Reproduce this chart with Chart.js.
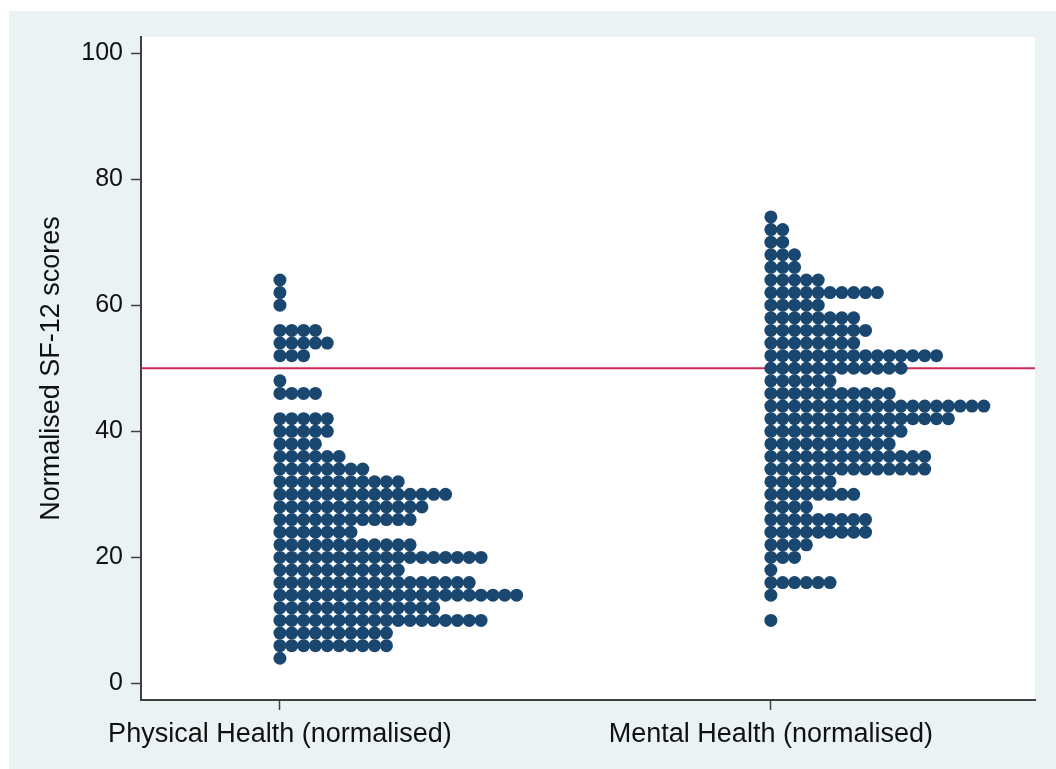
<!DOCTYPE html>
<html>
<head>
<meta charset="utf-8">
<title>SF-12 scores dot plot</title>
<script src="https://cdn.jsdelivr.net/npm/chart.js@4/dist/chart.umd.min.js"></script>
<style>
  html, body { margin: 0; padding: 0; background: #ffffff; }
  canvas { display: block; }
</style>
</head>
<body>
<canvas id="chart" width="1056" height="769"></canvas>
<script>
// Score bins (normalised SF-12, width 2)
const scoreLevels = [4, 6, 8, 10, 12, 14, 16, 18, 20, 22, 24, 26, 28, 30, 32, 34, 36, 38,
                     40, 42, 44, 46, 48, 50, 52, 54, 56, 58, 60, 62, 64, 66, 68, 70, 72, 74];

// Number of respondents in each bin
const physicalCounts = [1, 10, 10, 18, 14, 21, 17, 11, 18, 12, 7, 12, 13, 15, 11, 8, 6, 4,
                        5, 5, 0, 4, 1, 0, 3, 5, 4, 0, 1, 1, 1, 0, 0, 0, 0, 0];
const mentalCounts   = [0, 0, 0, 1, 0, 1, 6, 1, 3, 4, 9, 9, 4, 8, 6, 14, 14, 11,
                        12, 16, 19, 11, 6, 12, 15, 8, 9, 8, 5, 10, 5, 3, 3, 2, 2, 1];

const categories = ['Physical Health (normalised)', 'Mental Health (normalised)'];
const categoryPositions = [1, 2];
const referenceScore = 50;
const yTickValues = [0, 20, 40, 60, 80, 100];

// Axis ranges and dot stacking step (in x-axis units)
const X_MIN = 0.717, X_MAX = 2.538;
const Y_MIN = -2.62, Y_MAX = 102.54;
const DOT_STEP = 0.0241;

function stackDots(counts, base) {
  const pts = [];
  scoreLevels.forEach((lvl, i) => {
    for (let k = 0; k < counts[i]; k++) pts.push({ x: base + k * DOT_STEP, y: lvl });
  });
  return pts;
}

const TEXT = '#111111';
const AXIS = '#404040';
const FAMILY = '"Liberation Sans", Arial, sans-serif';
const LABEL_FONT = { family: FAMILY, size: 27 };
const TICK_FONT = { family: FAMILY, size: 25 };

// Graph region (light bluish grey) and white plot region
const backgroundPlugin = {
  id: 'regions',
  beforeDraw(chart) {
    const { ctx, chartArea: a } = chart;
    ctx.save();
    ctx.fillStyle = '#ffffff';
    ctx.fillRect(0, 0, chart.width, chart.height);
    ctx.fillStyle = '#eaf2f3';
    ctx.fillRect(9, 11, chart.width - 9, chart.height - 11);
    ctx.fillStyle = '#ffffff';
    ctx.fillRect(a.left, a.top, a.right - a.left, a.bottom - a.top);
    ctx.restore();
  }
};

new Chart(document.getElementById('chart'), {
  type: 'scatter',
  data: {
    datasets: [
      {
        type: 'line',
        label: 'reference',
        data: [{ x: X_MIN, y: referenceScore }, { x: X_MAX, y: referenceScore }],
        borderColor: '#cc2b55',
        borderWidth: 2,
        pointRadius: 0,
        order: 2
      },
      {
        label: categories[0],
        data: stackDots(physicalCounts, categoryPositions[0]),
        backgroundColor: '#1a476f',
        borderWidth: 0,
        pointRadius: 6.5,
        order: 1
      },
      {
        label: categories[1],
        data: stackDots(mentalCounts, categoryPositions[1]),
        backgroundColor: '#1a476f',
        borderWidth: 0,
        pointRadius: 6.5,
        order: 1
      }
    ]
  },
  options: {
    responsive: false,
    animation: false,
    devicePixelRatio: 1,
    layout: { padding: { top: 37, right: 21, left: 0, bottom: 0 } },
    plugins: { legend: { display: false }, tooltip: { enabled: false } },
    events: [],
    scales: {
      x: {
        type: 'linear',
        min: X_MIN,
        max: X_MAX,
        afterBuildTicks(scale) { scale.ticks = categoryPositions.map(v => ({ value: v })); },
        afterFit(scale) { scale.height = 69; },
        ticks: {
          font: LABEL_FONT,
          color: TEXT,
          padding: 8,
          maxRotation: 0,
          autoSkip: false,
          callback(value) {
            const i = categoryPositions.indexOf(value);
            return i >= 0 ? categories[i] : '';
          }
        },
        grid: { drawOnChartArea: false, drawTicks: true, tickLength: 10, tickColor: AXIS, tickWidth: 1.5 },
        border: { display: true, color: AXIS, width: 2 }
      },
      y: {
        type: 'linear',
        min: Y_MIN,
        max: Y_MAX,
        afterBuildTicks(scale) { scale.ticks = yTickValues.map(v => ({ value: v })); },
        afterFit(scale) { scale.width = 141; },
        ticks: { font: TICK_FONT, color: TEXT, padding: 8 },
        grid: { drawOnChartArea: false, drawTicks: true, tickLength: 10, tickColor: AXIS, tickWidth: 1.5 },
        border: { display: true, color: AXIS, width: 2 },
        title: {
          display: true,
          text: 'Normalised SF-12 scores',
          font: LABEL_FONT,
          color: TEXT,
          padding: { top: 35, bottom: 0 }
        }
      }
    }
  },
  plugins: [backgroundPlugin]
});
</script>
</body>
</html>
